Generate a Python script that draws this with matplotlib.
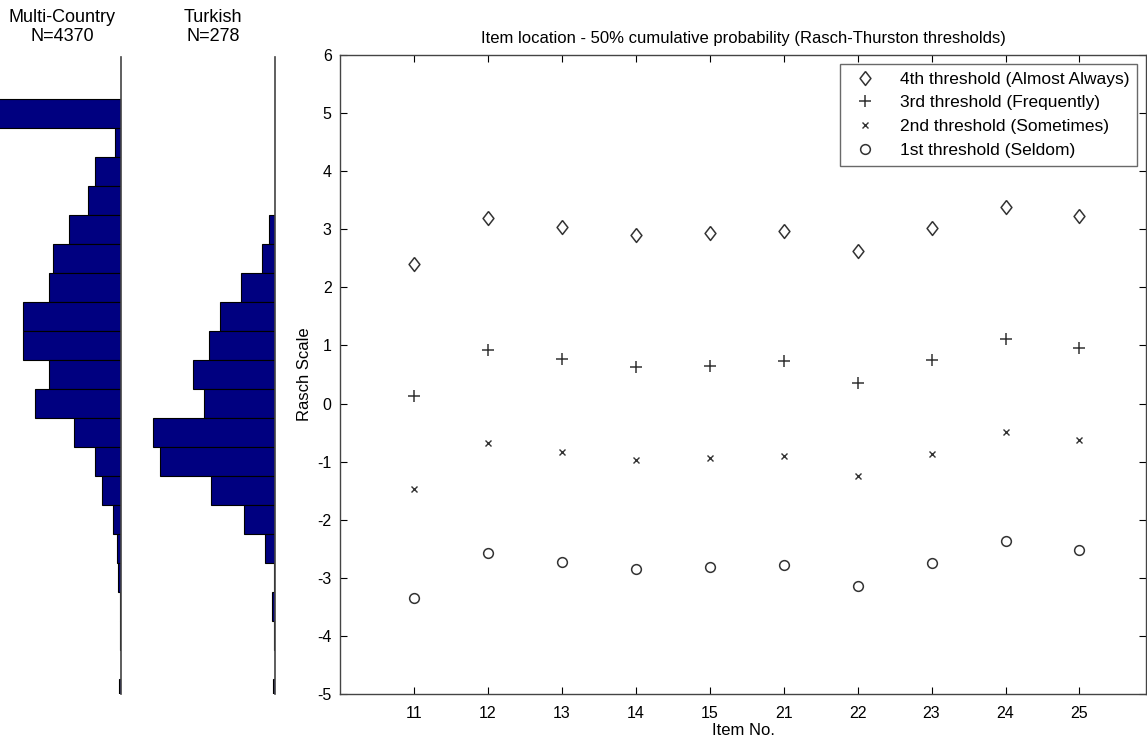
import matplotlib
matplotlib.use("Agg")
import matplotlib.pyplot as plt
from matplotlib import font_manager
import numpy as np

# fonts: MATLAB-ish narrow font for the main plot, if installed
names = set(f.name for f in font_manager.fontManager.ttflist)
narrow = "Liberation Sans Narrow" if "Liberation Sans Narrow" in names else "Liberation Sans"
plt.rcParams['font.family'] = [narrow, 'DejaVu Sans']
plt.rcParams['axes.unicode_minus'] = False

# item locations (Rasch scale)
items = ["11", "12", "13", "14", "15", "21", "22", "23", "24", "25"]
th4 = [2.40, 3.19, 3.04, 2.90, 2.94, 2.97, 2.63, 3.02, 3.38, 3.23]
th3 = [0.13, 0.92, 0.77, 0.63, 0.65, 0.73, 0.36, 0.75, 1.11, 0.96]
th2 = [-1.47, -0.68, -0.83, -0.97, -0.94, -0.90, -1.25, -0.87, -0.49, -0.63]
th1 = [-3.35, -2.57, -2.73, -2.85, -2.81, -2.78, -3.14, -2.74, -2.36, -2.52]

# person distributions (bin centres, relative frequency)
bins = [5.0, 4.5, 4.0, 3.5, 3.0, 2.5, 2.0, 1.5, 1.0, 0.5, 0.0, -0.5,
        -1.0, -1.5, -2.0, -2.5, -3.0, -3.5, -4.0, -4.5, -5.0]
multi = [200, 6, 26, 33, 52, 68, 72, 98, 98, 72, 86, 47,
         26, 19, 8, 4, 3, 1, 1, 0.3, 2]
turkish = [0, 0, 0, 0, 6, 13, 34, 55, 66, 82, 71, 122,
           115, 64, 31, 10, 1, 3, 1.5, 0.5, 2]

W, H = 1147, 739
fig = plt.figure(figsize=(W/100, H/100), dpi=100)

def fx(px):
    return px / W

def fy(py):
    return 1 - py / H

ylo, yhi = -5, 6
bot, top = fy(694), fy(55)

# histograms
def hist_panel(left_px, right_px, vals, xmax, title, tx):
    ax = fig.add_axes([fx(left_px), bot, fx(right_px - left_px), fy(57) - bot])
    ax.barh(bins, vals, height=0.5, color='#000080', edgecolor='black', linewidth=0.8)
    ax.set_xlim(xmax, 0)
    ax.set_ylim(ylo, yhi * (fy(57) - bot) / (top - bot) + ylo * (1 - (fy(57) - bot) / (top - bot)))
    for s in ['left', 'top', 'bottom']:
        ax.spines[s].set_visible(False)
    ax.spines['right'].set_color('#444444')
    ax.spines['right'].set_linewidth(1.2)
    ax.set_xticks([])
    ax.set_yticks([])
    fig.text(fx(tx), fy(27), title, ha='center', va='center', fontsize=13,
             family=['Liberation Sans', 'DejaVu Sans'], linespacing=1.15)
    return ax

hist_panel(0, 121, multi, 121, "Multi-Country\nN=4370", 62)
hist_panel(150, 275, turkish, 125, "Turkish\nN=278", 213)

# main plot
ax = fig.add_axes([fx(340), bot, fx(1146) - fx(340), top - bot])
x = np.arange(1, len(items) + 1)
mc = '#333333'
diamond = [(0, 1), (0.78, 0), (0, -1), (-0.78, 0), (0, 1)]
ax.plot(x, th4, linestyle='none', marker=diamond, markersize=10, mfc='none', mec=mc, mew=1.1,
        label="4th threshold (Almost Always)")
ax.plot(x, th3, linestyle='none', marker='+', markersize=8, mec=mc, mew=1.1,
        label="3rd threshold (Frequently)")
ax.plot(x, th2, linestyle='none', marker='x', markersize=4.5, mec=mc, mew=1.0,
        label="2nd threshold (Sometimes)")
ax.plot(x, th1, linestyle='none', marker='o', markersize=7, mfc='none', mec=mc, mew=1.1,
        label="1st threshold (Seldom)")

ax.set_xlim(0, 10.9)
ax.set_ylim(ylo, yhi)
ax.set_xticks(x)
ax.set_xticklabels(items)
ax.set_yticks(np.arange(-5, 7, 1))
ax.tick_params(direction='in', top=True, right=True, length=5, labelsize=11.5, width=0.8)
ax.tick_params(axis='x', pad=9)
ax.tick_params(axis='y', pad=6)
for s in ax.spines.values():
    s.set_color('#444444')
    s.set_linewidth(1.0)
ax.set_title("Item location - 50% cumulative probability (Rasch-Thurston thresholds)",
             fontsize=12, pad=9)
ax.set_xlabel("Item No.", fontsize=12, labelpad=1)
ax.set_ylabel("Rasch Scale", fontsize=12, labelpad=4)

leg = ax.legend(loc='upper right', fontsize=12.5, frameon=True, fancybox=False,
                borderaxespad=0.5, handletextpad=1.0, labelspacing=0.5, borderpad=0.45)
leg.get_frame().set_edgecolor('#444444')
leg.get_frame().set_linewidth(1.0)

fig.savefig("out.png", dpi=100)
